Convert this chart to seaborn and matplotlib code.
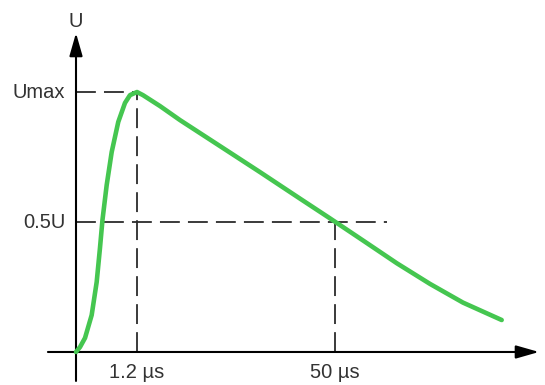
import matplotlib.pyplot as plt
import seaborn as sns
import numpy as np
import pandas as pd

# schematic impulse voltage waveform (time in arbitrary units, U / Umax)
t = [0.0, 0.066, 0.148, 0.257, 0.339, 0.393, 0.434, 0.503, 0.585, 0.693,
     0.803, 0.885, 1.0,
     1.098, 1.377, 1.705, 2.361, 3.016, 3.672, 4.164, 4.705, 5.262, 5.803,
     6.344, 6.979]
u = [0.0, 0.019, 0.054, 0.142, 0.269, 0.40, 0.508, 0.642, 0.769, 0.885,
     0.958, 0.988, 1.0,
     0.988, 0.946, 0.892, 0.792, 0.692, 0.590, 0.514, 0.429, 0.341, 0.262,
     0.190, 0.123]

t_peak = 1.0      # 1.2 us
t_half = 4.25     # 50 us
u_levels = [1.0, 0.5]
u_labels = ['Umax', '0.5U']
t_ticks = [t_peak, t_half]
t_labels = ['1.2 µs', '50 µs']

sns.set_style('white')
plt.rcParams['font.family'] = ['Liberation Sans', 'DejaVu Sans']

df = pd.DataFrame({'t': t, 'u': u})

fig = plt.figure(figsize=(5.45, 3.85), dpi=100)
ax = fig.add_axes([0, 0, 1, 1])
ax.set_xlim(-1.246, 7.689)
ax.set_ylim(-0.127, 1.354)
ax.axis('off')

axis_col = '#2b2b2b'
dash_kw = dict(color=axis_col, lw=1.3, dashes=(11, 4.5))

# dashed guides
ax.plot([0, t_peak], [u_levels[0], u_levels[0]], **dash_kw)
ax.plot([t_peak, t_peak], [0, u_levels[0]], **dash_kw)
ax.plot([0, 5.1], [u_levels[1], u_levels[1]], **dash_kw)
ax.plot([t_half, t_half], [0, u_levels[1]], **dash_kw)

# axes with arrows
ax.annotate('', xy=(7.59, 0), xytext=(-0.46, 0),
            arrowprops=dict(arrowstyle='-|>,head_length=1.4,head_width=0.4',
                            color='black', lw=1.5, shrinkA=0, shrinkB=0))
ax.annotate('', xy=(0, 1.227), xytext=(0, -0.11),
            arrowprops=dict(arrowstyle='-|>,head_length=1.4,head_width=0.4',
                            color='black', lw=1.5, shrinkA=0, shrinkB=0))
ax.plot([0, 7.3], [0, 0], color=axis_col, lw=1.4)
ax.plot([0, 0], [-0.11, 1.15], color=axis_col, lw=1.4)

# waveform
sns.lineplot(data=df, x='t', y='u', sort=False, color='#45c650', lw=3.3,
             ax=ax, zorder=5)

# labels
fs = 14.5
txt_col = '#333333'
ax.text(0, 1.273, 'U', ha='center', va='center', fontsize=fs, color=txt_col)
for lev, lab in zip(u_levels, u_labels):
    ax.text(-0.18, lev, lab, ha='right', va='center', fontsize=fs, color=txt_col)
for tk, lab in zip(t_ticks, t_labels):
    ax.text(tk, -0.08, lab, ha='center', va='center', fontsize=fs, color=txt_col)

fig.savefig('out.png', dpi=100)
plt.close()
